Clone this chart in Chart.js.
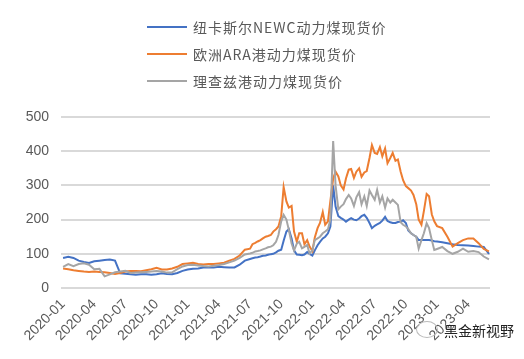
<!DOCTYPE html>
<html lang="zh">
<head>
<meta charset="UTF-8">
<title>动力煤现货价</title>
<style>
    body { margin: 0; background: #fff; }
    #wrap { position: relative; width: 524px; height: 359px; }
    #legend {
        position: absolute; left: 147px; top: 13px;
        font-family: "Noto Sans CJK SC", sans-serif; font-size: 14px;
        color: #595959; letter-spacing: 1px;
    }
    #legend .item { height: 27px; display: flex; align-items: center; }
    #legend .swatch { width: 40px; height: 2px; margin-right: 6px; }
    #mark {
        position: absolute; left: 444px; top: 320px;
        font-family: "Noto Sans CJK SC", sans-serif; font-size: 14px; color: #222;
        text-shadow: 0 0 2px #fff, 0 0 2px #fff;
    }
    #icon {
        position: absolute; left: 416px; top: 321px; width: 20px; height: 15px;
        border: 1px solid #bbb; border-radius: 50%;
    }
</style>
<script src="https://cdn.jsdelivr.net/npm/chart.js"></script>
</head>
<body>
<div id="wrap">
    <canvas id="chart" width="524" height="359"></canvas>
    <div id="legend"></div>
    <div id="icon"></div>
    <div id="mark">黑金新视野</div>
</div>
<script>
// dates of the readings (semimonthly, weekly-ish through the volatile stretch)
const dates = [
    '2020-01-01','2020-01-16','2020-02-01','2020-02-16','2020-03-01','2020-03-16','2020-04-01','2020-04-16',
    '2020-05-01','2020-05-16','2020-06-01','2020-06-16','2020-07-01','2020-07-16','2020-08-01','2020-08-16',
    '2020-09-01','2020-09-16','2020-10-01','2020-10-16','2020-11-01','2020-11-16','2020-12-01','2020-12-16',
    '2021-01-01','2021-01-16','2021-02-01','2021-02-16','2021-03-01','2021-03-16','2021-04-01','2021-04-16',
    '2021-05-01','2021-05-16','2021-06-01','2021-06-16',
    '2021-07-01','2021-07-08','2021-07-16','2021-07-23','2021-08-01','2021-08-08','2021-08-16','2021-08-23',
    '2021-09-01','2021-09-08','2021-09-16','2021-09-23','2021-10-01','2021-10-08','2021-10-16','2021-10-23',
    '2021-11-01','2021-11-08','2021-11-16','2021-11-23','2021-12-01','2021-12-08','2021-12-16','2021-12-23',
    '2022-01-01','2022-01-08','2022-01-16','2022-01-23','2022-02-01','2022-02-08','2022-02-16','2022-02-23',
    '2022-03-01','2022-03-08','2022-03-16','2022-03-23','2022-04-01','2022-04-08','2022-04-16','2022-04-23',
    '2022-05-01','2022-05-08','2022-05-16','2022-05-23','2022-06-01','2022-06-08','2022-06-16','2022-06-23',
    '2022-07-01','2022-07-08','2022-07-16','2022-07-23','2022-08-01','2022-08-08','2022-08-16','2022-08-23',
    '2022-09-01','2022-09-08','2022-09-16','2022-09-23','2022-10-01','2022-10-08','2022-10-16','2022-10-23',
    '2022-11-01','2022-11-08','2022-11-16','2022-11-23','2022-12-01','2022-12-08','2022-12-16','2022-12-23',
    '2023-01-01','2023-01-16','2023-02-01','2023-02-16','2023-03-01','2023-03-16','2023-04-01','2023-04-16',
    '2023-05-01','2023-05-16','2023-06-01'
];

const newcPrice = [
    88, 91, 88, 80, 76, 73, 78, 80, 82, 83, 80, 43, 42, 40, 39, 40, 40, 39, 40, 43, 41, 40, 44, 50,
    54, 56, 57, 60, 60, 60, 62, 61, 60, 60, 68, 80,
    85, 87, 89, 90, 92, 94, 95, 97, 99, 100, 104, 109, 112, 138, 165, 172,
    145, 110, 98, 97, 96, 98, 105, 100, 95, 110, 125, 135, 145, 150, 160, 180,
    300, 238, 210, 205, 200, 194, 200, 204, 200, 198, 203, 210, 214, 205, 190, 175,
    182, 186, 190, 197, 208, 196, 192, 190, 190, 193, 194, 198, 190, 168, 160, 155,
    150, 140, 140, 140, 140, 140, 139, 137,
    136, 134, 131, 128, 126, 125, 124, 123, 121, 120, 100
];

const araPrice = [
    57, 55, 52, 50, 48, 47, 48, 47, 46, 44, 41, 44, 48, 50, 50, 49, 52, 55, 59, 54, 54, 57, 62, 70,
    72, 74, 70, 69, 70, 70, 72, 74, 80, 85, 95, 112,
    115, 128, 132, 136, 140, 145, 150, 152, 155, 165, 172, 180, 210, 295, 253, 235,
    240, 165, 135, 160, 160, 128, 140, 121, 108, 148, 175, 190, 222, 185, 195, 255,
    320, 340, 326, 300, 288, 320, 346, 348, 322, 340, 350, 325, 338, 342, 380, 418,
    395, 392, 412, 385, 408, 365, 380, 395, 372, 376, 340, 315, 298, 292, 285, 272,
    245, 200, 185, 225, 275, 268, 215, 195,
    181, 175, 150, 121, 131, 140, 145, 145, 131, 114, 107
];

const richardsBayPrice = [
    62, 70, 64, 70, 72, 68, 55, 56, 34, 40, 46, 48, 50, 44, 45, 46, 47, 48, 50, 48, 45, 46, 55, 63,
    67, 68, 66, 64, 63, 65, 67, 70, 75, 80, 88, 98,
    101, 103, 107, 108, 110, 113, 116, 119, 121, 125, 135, 155, 195, 214, 200, 170,
    130, 110, 130, 135, 116, 120, 126, 101, 110, 140, 145, 150, 160, 165, 172, 200,
    430, 300, 230, 238, 245, 260, 272, 262, 240, 265, 280, 245, 268, 240, 285, 272,
    258, 287, 250, 268, 235, 262, 250, 258, 250, 243, 192, 185, 180, 172, 160, 155,
    150, 115, 140, 160, 189, 175, 140, 111,
    114, 120, 108, 100, 106, 115, 106, 108, 105, 92, 84
];

const tickLabels = ['2020-01','2020-04','2020-07','2020-10','2021-01','2021-04','2021-07',
    '2021-10','2022-01','2022-04','2022-07','2022-10','2023-01','2023-04'];

const seriesNames = ['纽卡斯尔NEWC动力煤现货价', '欧洲ARA港动力煤现货价', '理查兹港动力煤现货价'];
const seriesColors = ['#4472C4', '#ED7D31', '#A5A5A5'];

// months since 2020-01
function toMonth(s) {
    const [y, m, d] = s.split('-').map(Number);
    return (y - 2020) * 12 + (m - 1) + (d - 1) / 30;
}
function monthLabel(v) {
    const y = 2020 + Math.floor(v / 12);
    const m = v % 12 + 1;
    return y + '-' + String(m).padStart(2, '0');
}

const xs = dates.map(toMonth);
const allValues = [newcPrice, araPrice, richardsBayPrice];

const datasets = allValues.map((vals, i) => ({
    label: seriesNames[i],
    data: vals.map((v, j) => ({ x: xs[j], y: v })),
    borderColor: seriesColors[i],
    backgroundColor: seriesColors[i],
    borderWidth: 2,
    pointRadius: 0,
    tension: 0,
    fill: false,
    order: allValues.length - 1 - i   // later series drawn on top, like excel
}));

new Chart(document.getElementById('chart'), {
    type: 'line',
    data: { datasets: datasets },
    options: {
        responsive: false,
        animation: false,
        layout: { padding: { top: 117, right: 34, left: 0, bottom: 0 } },
        plugins: { legend: { display: false }, tooltip: { enabled: false } },
        scales: {
            x: {
                type: 'linear',
                min: -0.2,
                max: 41.1,
                grid: { display: false, drawTicks: false },
                border: { display: false },
                afterBuildTicks: s => { s.ticks = tickLabels.map((t, i) => ({ value: i * 3 })); },
                afterFit: s => { s.height = 71; },
                ticks: {
                    autoSkip: false,
                    maxRotation: 45,
                    minRotation: 45,
                    padding: 8,
                    color: '#595959',
                    font: { family: 'Liberation Sans', size: 14 },
                    callback: v => monthLabel(v)
                }
            },
            y: {
                min: 0,
                max: 500,
                grid: { color: '#D9D9D9', lineWidth: 2, drawTicks: false },
                border: { display: false },
                afterFit: s => { s.width = 61; },
                ticks: {
                    stepSize: 50,
                    padding: 12,
                    color: '#595959',
                    font: { family: 'Liberation Sans', size: 14 }
                }
            }
        }
    }
});

// legend, stacked like the original
const legend = document.getElementById('legend');
seriesNames.forEach((name, i) => {
    const row = document.createElement('div');
    row.className = 'item';
    row.innerHTML = `<span class="swatch" style="background:${seriesColors[i]}"></span><span>${name}</span>`;
    legend.appendChild(row);
});
</script>
</body>
</html>
